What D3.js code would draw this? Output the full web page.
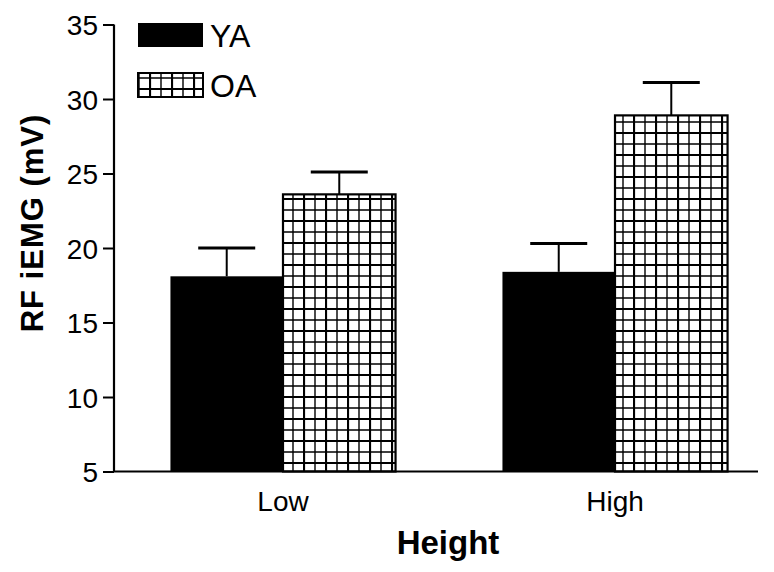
<!DOCTYPE html>
<html><head><meta charset="utf-8">
<script src="https://cdn.jsdelivr.net/npm/d3@7"></script>
<style>body{margin:0;background:#fff}svg{display:block}text{font-family:Arial,"Liberation Sans",sans-serif;fill:#000}</style>
</head><body>
<svg id="c" width="774" height="572"></svg>
<script>
const categories = ["Low", "High"];
const seriesNames = ["YA", "OA"];
const meanYA = [18.1, 18.4];
const meanOA = [23.6, 28.9];
const errYA = [1.9, 1.9];
const errOA = [1.5, 2.2];
const yTicks = [5, 10, 15, 20, 25, 30, 35];

const svg = d3.select("#c");
const defs = svg.append("defs");
const pat = defs.append("pattern").attr("id","grid").attr("patternUnits","userSpaceOnUse")
  .attr("width",22).attr("height",22).attr("x",281).attr("y",0);
pat.append("rect").attr("width",22).attr("height",22).attr("fill","#fff");
pat.append("path").attr("d","M1,0V22M0,1H22").attr("stroke","#000").attr("stroke-width",2.2);
pat.append("path").attr("d","M12,0V22M0,12H22").attr("stroke","#000").attr("stroke-width",1.4);

const y = d3.scaleLinear().domain([5,35]).range([471.5,24.5]);
const x0 = d3.scaleBand().domain(categories).range([114,784]).paddingInner(0.322).paddingOuter(0.17);
const x1 = d3.scaleBand().domain(seriesNames).range([0,x0.bandwidth()]);

const data = categories.map((c,i)=>[
  {cat:c, s:"YA", v:meanYA[i], e:errYA[i]},
  {cat:c, s:"OA", v:meanOA[i], e:errOA[i]}
]).flat();

const g = svg.append("g");
g.selectAll("rect.bar").data(data).join("rect").attr("class","bar")
  .attr("x",d=>x0(d.cat)+x1(d.s)).attr("width",x1.bandwidth())
  .attr("y",d=>y(d.v)).attr("height",d=>y(5)-y(d.v))
  .attr("fill",d=>d.s==="YA"?"#000":"url(#grid)")
  .attr("stroke","#000").attr("stroke-width",d=>d.s==="YA"?0:2.2);

// error bars
const capW = 57;
g.selectAll("line.ev").data(data).join("line").attr("class","ev")
  .attr("x1",d=>x0(d.cat)+x1(d.s)+x1.bandwidth()/2).attr("x2",d=>x0(d.cat)+x1(d.s)+x1.bandwidth()/2)
  .attr("y1",d=>y(d.v)).attr("y2",d=>y(d.v+d.e)).attr("stroke","#000").attr("stroke-width",2);
g.selectAll("line.ec").data(data).join("line").attr("class","ec")
  .attr("x1",d=>x0(d.cat)+x1(d.s)+x1.bandwidth()/2-capW/2).attr("x2",d=>x0(d.cat)+x1(d.s)+x1.bandwidth()/2+capW/2)
  .attr("y1",d=>y(d.v+d.e)).attr("y2",d=>y(d.v+d.e)).attr("stroke","#000").attr("stroke-width",3);

// y axis
const ya = svg.append("g").attr("transform","translate(114,0)")
  .call(d3.axisLeft(y).tickValues(yTicks).tickSize(11).tickPadding(5).tickFormat(d3.format("d")));
ya.select(".domain").attr("stroke-width",2.2).attr("d","M0,"+y(35)+"V"+y(5));
ya.selectAll(".tick line").attr("stroke-width",2);
ya.selectAll(".tick text").attr("font-size",28).style("font-family","Arial,'Liberation Sans',sans-serif").attr("dy","0.36em");

// x axis baseline
const xa = svg.append("g").attr("transform","translate(0,"+y(5)+")")
  .call(d3.axisBottom(x0).tickSize(0).tickPadding(20));
xa.select(".domain").attr("stroke-width",2.2).attr("d","M114,0H758");
xa.selectAll(".tick text").attr("font-size",28).style("font-family","Arial,'Liberation Sans',sans-serif");

// axis titles
svg.append("text").attr("x",448).attr("y",554).attr("text-anchor","middle")
  .attr("font-size",33).attr("font-weight","bold").text("Height");
svg.append("text").attr("transform","translate(43,223) rotate(-90)").attr("text-anchor","middle")
  .attr("font-size",31).attr("font-weight","bold").attr("letter-spacing",1).text("RF iEMG (mV)");

// legend
const leg = svg.append("g");
seriesNames.forEach((s,i)=>{
  leg.append("rect").attr("x",138).attr("y",23+i*50).attr("width",65).attr("height",24)
    .attr("fill",s==="YA"?"#000":"url(#grid)").attr("stroke","#000").attr("stroke-width",s==="YA"?0:2);
  leg.append("text").attr("x",210).attr("y",47+i*50).attr("font-size",32).text(s);
});
</script>
</body></html>
